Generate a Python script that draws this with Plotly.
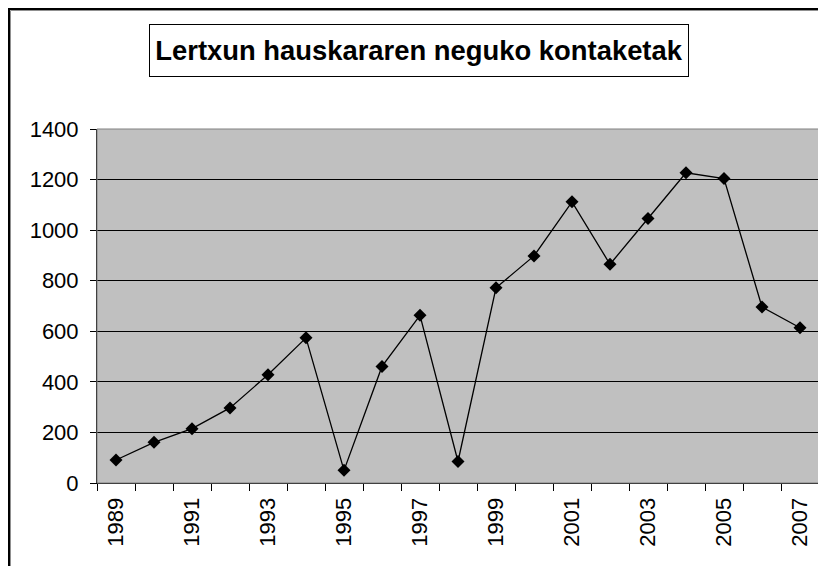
import plotly.graph_objects as go

# ---- data ----
years = [1989, 1990, 1991, 1992, 1993, 1994, 1995, 1996, 1997, 1998,
         1999, 2000, 2001, 2002, 2003, 2004, 2005, 2006, 2007]
counts = [91, 161, 215, 297, 428, 574, 50, 461, 663, 85,
          772, 898, 1112, 865, 1046, 1227, 1204, 696, 614]
label_years = [1989, 1991, 1993, 1995, 1997, 1999, 2001, 2003, 2005, 2007]
label_text = [str(y) for y in label_years]
title_text = "Lertxun hauskararen neguko kontaketak"

# the page body has an 8px margin, so the figure is shifted accordingly
OFF = 8
W, H = 826 - OFF, 566 - OFF
L, T = 97 - OFF, 129 - OFF
R = W - (819 - OFF)
B = H - (483 - OFF)
PW = W - L - R
PH = H - T - B

FONT = "Liberation Sans, Arial, sans-serif"

fig = go.Figure()
fig.add_trace(go.Scatter(
    x=years, y=counts, mode="lines+markers",
    line=dict(color="black", width=1.3),
    marker=dict(symbol="diamond", size=10, color="black"),
    showlegend=False, cliponaxis=False,
))
# invisible trace to carry the boundary tick axis
fig.add_trace(go.Scatter(
    x=years, y=counts, xaxis="x2", mode="markers",
    marker=dict(opacity=0), showlegend=False, hoverinfo="skip",
))

xr = [years[0] - 0.5, years[-1] + 0.5]

def px_x(p):  # screen pixel -> paper x
    return (p - OFF - L) / PW

def px_y(p):  # screen pixel -> paper y
    return (H - B - (p - OFF)) / PH

fig.update_layout(
    width=W, height=H, autosize=False,
    margin=dict(l=L, r=R, t=T, b=B, pad=0),
    paper_bgcolor="white", plot_bgcolor="#C0C0C0",
    font=dict(family=FONT, color="black"),
    xaxis=dict(
        range=xr, tickmode="array", tickvals=label_years, ticktext=label_text,
        tickangle=-90, ticks="", showgrid=False, zeroline=False,
        showline=True, linecolor="black", linewidth=1,
        tickfont=dict(size=22, family=FONT), ticklabelstandoff=5,
    ),
    xaxis2=dict(
        range=xr, overlaying="x", anchor="y", side="bottom",
        tickmode="linear", tick0=xr[0], dtick=1, ticks="outside", ticklen=7,
        tickcolor="black", tickwidth=1, showticklabels=False,
        showgrid=False, zeroline=False, showline=False,
    ),
    yaxis=dict(
        range=[0, 1400], tickmode="linear", tick0=0, dtick=200,
        ticks="outside", ticklen=6, tickcolor="black", tickwidth=1,
        showgrid=True, gridcolor="black", gridwidth=1, zeroline=False,
        showline=True, linecolor="black", linewidth=1,
        tickfont=dict(size=22, family=FONT), ticklabelstandoff=7,
    ),
    shapes=[
        # plot area border (top/right gray)
        dict(type="rect", xref="x domain", yref="y domain", x0=0, x1=1, y0=0, y1=1,
             line=dict(color="#808080", width=1), layer="above"),
        # chart frame (extends off the picture to the right and bottom)
        dict(type="rect", xref="paper", yref="paper",
             x0=px_x(9), x1=2.0, y0=-1.0, y1=px_y(9),
             line=dict(color="black", width=2), layer="above"),
        dict(type="rect", xref="paper", yref="paper",
             x0=px_x(10.5), x1=2.0, y0=-1.0, y1=px_y(10.5),
             line=dict(color="#909090", width=1), layer="above"),
    ],
    annotations=[
        dict(text="<b>" + title_text + "</b>", xref="paper", yref="paper",
             x=px_x(419), y=px_y(50.5),
             xanchor="center", yanchor="middle", showarrow=False,
             font=dict(size=27.4, family=FONT, color="black"),
             bgcolor="white", bordercolor="black", borderwidth=1, borderpad=1,
             width=536, height=49),
    ],
)

fig.write_html("out.html")
